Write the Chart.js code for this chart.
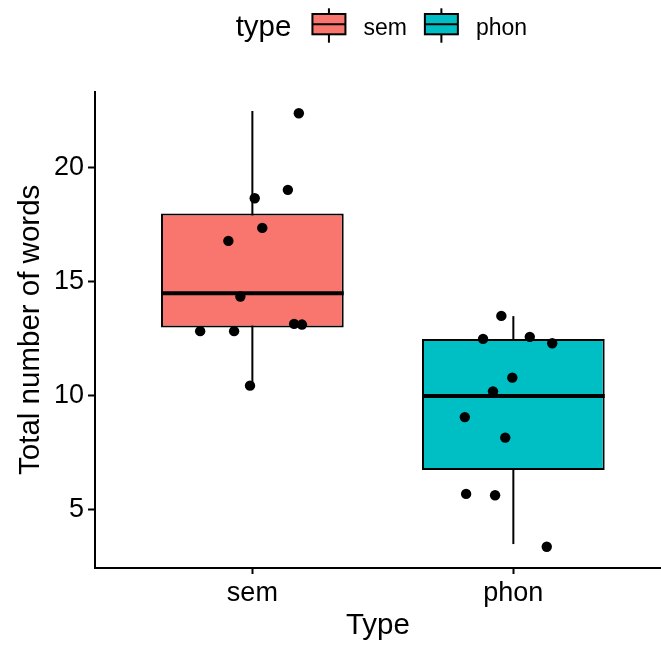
<!DOCTYPE html>
<html>
<head>
<meta charset="utf-8">
<script src="https://cdn.jsdelivr.net/npm/chart.js@4.4.0/dist/chart.umd.min.js"></script>
<style>
  html, body { margin: 0; padding: 0; background: #fff; overflow: hidden; }
</style>
</head>
<body>
<canvas id="myChart" width="666" height="651"></canvas>
<script>
var categories = ['sem', 'phon'];
var boxColors = ['#F8766D', '#00BFC4'];
var lowerWhisker = [10.45, 3.5];
var q1 = [13, 6.75];
var medians = [14.5, 10];
var q3 = [18, 12.5];
var upperWhisker = [22.5, 13.5];
var yTicks = [5, 10, 15, 20];

// jittered points (x: 1 = sem, 2 = phon)
var semX = [1.178, 1.136, 1.009, 1.038, 0.908, 0.954, 0.8, 0.93, 1.16, 1.19, 0.991];
var semY = [22.4, 19.04, 18.67, 17.37, 16.8, 14.36, 12.84, 12.84, 13.16, 13.13, 10.45];
var phonX = [1.954, 1.884, 2.063, 2.149, 1.996, 1.922, 1.814, 1.969, 1.819, 1.93, 2.128];
var phonY = [13.51, 12.5, 12.59, 12.31, 10.8, 10.2, 9.07, 8.17, 5.7, 5.64, 3.38];

var fontFamily = '"Liberation Sans", Arial, Helvetica, sans-serif';

var points = semX.map(function (x, i) { return { x: x, y: semY[i] }; })
    .concat(phonX.map(function (x, i) { return { x: x, y: phonY[i] }; }));

var boxParts = {
    id: 'boxParts',
    beforeDatasetsDraw: function (chart) {
        var c = chart.ctx, xs = chart.scales.x, ys = chart.scales.y;
        c.save();
        c.strokeStyle = '#000';
        c.lineWidth = 2;
        categories.forEach(function (cat, i) {
            var px = xs.getPixelForValue(i + 1);
            c.beginPath();
            c.moveTo(px, ys.getPixelForValue(lowerWhisker[i]));
            c.lineTo(px, ys.getPixelForValue(upperWhisker[i]));
            c.stroke();
        });
        c.restore();
    },
    afterDatasetDraw: function (chart, args) {
        if (args.index !== 0) return;
        var c = chart.ctx, ys = chart.scales.y;
        var meta = chart.getDatasetMeta(0);
        c.save();
        c.strokeStyle = '#000';
        c.lineWidth = 4;
        meta.data.forEach(function (el, i) {
            var p = el.getProps(['x', 'width'], true);
            var py = ys.getPixelForValue(medians[i]);
            c.beginPath();
            c.moveTo(p.x - p.width / 2, py);
            c.lineTo(p.x + p.width / 2, py);
            c.stroke();
        });
        c.restore();
    }
};

var typeLegend = {
    id: 'typeLegend',
    afterDraw: function (chart) {
        var c = chart.ctx, xs = chart.scales.x;
        var center = (xs.getPixelForValue(0.4) + xs.getPixelForValue(2.6)) / 2 - 1;
        c.save();
        c.font = '29.5px ' + fontFamily;
        var titleW = c.measureText('type').width;
        c.font = '23px ' + fontFamily;
        var labelW = categories.map(function (t) { return c.measureText(t).width; });
        var keyW = 33;
        var total = titleW + 21 + keyW + 18 + labelW[0] + 19 + keyW + 18 + labelW[1];
        var x = center - total / 2;
        c.fillStyle = '#000';
        c.textBaseline = 'alphabetic';
        c.textAlign = 'left';
        c.font = '29.5px ' + fontFamily;
        c.fillText('type', x, 36);
        x += titleW + 21;
        categories.forEach(function (cat, i) {
            c.strokeStyle = '#000';
            c.lineWidth = 2;
            c.beginPath();
            c.moveTo(x + keyW / 2, 8.3);
            c.lineTo(x + keyW / 2, 42.7);
            c.stroke();
            c.fillStyle = boxColors[i];
            c.fillRect(x, 14, keyW, 20.3);
            c.strokeRect(x, 14, keyW, 20.3);
            c.beginPath();
            c.moveTo(x, 24.2);
            c.lineTo(x + keyW, 24.2);
            c.stroke();
            c.fillStyle = '#000';
            c.font = '23px ' + fontFamily;
            c.fillText(cat, x + keyW + 18, 35);
            x += keyW + 18 + labelW[i] + 18;
        });
        c.restore();
    }
};

var ctx = document.getElementById('myChart').getContext('2d');
var myChart = new Chart(ctx, {
    type: 'bar',
    data: {
        datasets: [{
            type: 'bar',
            data: categories.map(function (c, i) { return { x: i + 1, y: [q1[i], q3[i]] }; }),
            backgroundColor: boxColors,
            borderColor: '#000',
            borderWidth: 2,
            borderSkipped: false,
            barPercentage: 0.7,
            categoryPercentage: 1,
            order: 2
        }, {
            type: 'scatter',
            data: points,
            pointRadius: 5.2,
            pointBackgroundColor: '#000',
            pointBorderWidth: 0,
            order: 1
        }]
    },
    options: {
        responsive: false,
        devicePixelRatio: 1,
        animation: false,
        layout: { padding: { top: 91.6, left: 0, right: 0, bottom: 0 } },
        plugins: {
            legend: { display: false },
            tooltip: { enabled: false }
        },
        scales: {
            x: {
                type: 'linear',
                min: 0.397,
                max: 2.565,
                offset: false,
                afterFit: function (s) { s.height = 83; },
                afterBuildTicks: function (s) {
                    s.ticks = categories.map(function (c, i) { return { value: i + 1 }; });
                },
                ticks: {
                    callback: function (v) { return categories[v - 1]; },
                    color: '#000',
                    font: { family: fontFamily, size: 27 },
                    padding: 3,
                    maxRotation: 0
                },
                grid: { offset: false, drawOnChartArea: false, drawTicks: true, tickLength: 6, tickWidth: 2, tickColor: '#000' },
                border: { display: true, color: '#000', width: 2 },
                title: { display: true, text: 'Type', color: '#000', font: { family: fontFamily, size: 29.5 }, padding: { top: 0, bottom: 7 } }
            },
            y: {
                min: 2.45,
                max: 23.35,
                afterFit: function (s) { s.width = 95; },
                afterBuildTicks: function (s) {
                    s.ticks = yTicks.map(function (v) { return { value: v }; });
                },
                ticks: {
                    color: '#000',
                    font: { family: fontFamily, size: 27 },
                    padding: 4
                },
                grid: { drawOnChartArea: false, drawTicks: true, tickLength: 7, tickWidth: 2, tickColor: '#000' },
                border: { display: true, color: '#000', width: 2 },
                title: { display: true, text: 'Total number of words', color: '#000', font: { family: fontFamily, size: 29.5 }, padding: { top: 13, bottom: 0 } }
            }
        }
    },
    plugins: [boxParts, typeLegend]
});
</script>
</body>
</html>
